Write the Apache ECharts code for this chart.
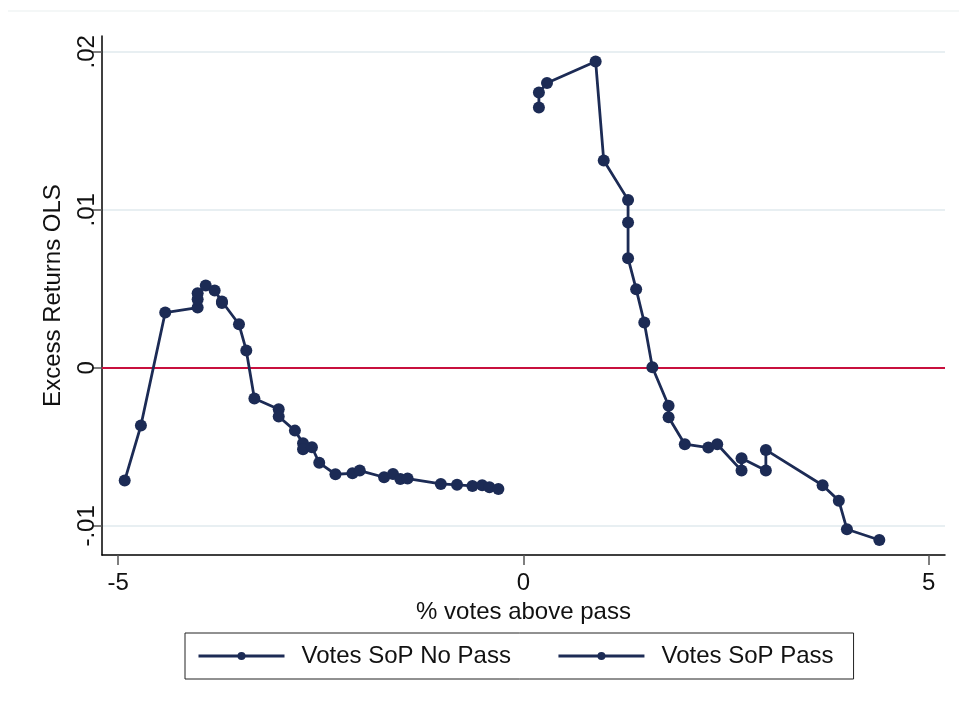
<!DOCTYPE html>
<html>
<head>
<meta charset="utf-8">
<script src="https://cdn.jsdelivr.net/npm/echarts@6/dist/echarts.min.js"></script>
<style>
  html, body { margin: 0; padding: 0; background: #fff; }
  #chart { width: 959px; height: 707px; }
</style>
</head>
<body>
<div id="chart"></div>
<script>
var chart = echarts.init(document.getElementById('chart'));

// Votes SoP No Pass  (x = % votes above pass, y = excess returns)
var noPassX = [-4.92, -4.72, -4.42, -4.02, -4.02, -4.02, -3.92, -3.81, -3.72, -3.72, -3.51, -3.42, -3.32,
    -3.02, -3.02, -2.82, -2.72, -2.72, -2.61, -2.52, -2.32, -2.11, -2.02, -1.72, -1.61, -1.52, -1.43,
    -1.02, -0.82, -0.63, -0.51, -0.42, -0.31];
var noPassY = [-0.00713, -0.00365, 0.0035, 0.00382, 0.00435, 0.00473, 0.00521, 0.00489, 0.0042, 0.0041,
    0.00276, 0.0011, -0.00194, -0.00262, -0.00308, -0.00397, -0.00477, -0.00515, -0.00502, -0.00601,
    -0.00673, -0.00667, -0.0065, -0.00692, -0.00671, -0.00703, -0.007, -0.00734, -0.0074, -0.00747,
    -0.00743, -0.00755, -0.00766];

// Votes SoP Pass
var passX = [0.19, 0.19, 0.29, 0.89, 0.99, 1.29, 1.29, 1.29, 1.39, 1.49, 1.59, 1.79, 1.79, 1.99,
    2.28, 2.39, 2.69, 2.69, 2.99, 2.99, 3.69, 3.89, 3.99, 4.39];
var passY = [0.01648, 0.01743, 0.01802, 0.01939, 0.01312, 0.01063, 0.0092, 0.00694, 0.00498, 0.00287,
    0.00004, -0.0024, -0.00312, -0.00483, -0.00504, -0.00483, -0.0065, -0.00572, -0.0065, -0.00519,
    -0.00743, -0.0084, -0.01021, -0.01089];

var xTicks = [-5, 0, 5];
var yTicks = [-0.01, 0, 0.01, 0.02];
var yTickLabels = ['-.01', '0', '.01', '.02'];

function pairs(xs, ys) {
    return xs.map(function (x, i) { return [x, ys[i]]; });
}

var navy = '#1c2b55';
var font = 'Liberation Sans, Arial, sans-serif';

option = {
    backgroundColor: '#fff',
    animation: false,
    graphic: [{
        type: 'line',
        shape: { x1: 8, y1: 11, x2: 959, y2: 11 },
        style: { stroke: '#e9efef', lineWidth: 1 }
    }],
    grid: {
        left: 102,
        right: 14,
        top: 36,
        bottom: 152
    },
    legend: {
        left: 185,
        top: 633,
        itemWidth: 86,
        itemHeight: 10,
        itemGap: 46,
        padding: [11, 20, 11, 12],
        borderColor: '#222',
        borderWidth: 1,
        lineStyle: { width: 3 },
        textStyle: {
            fontFamily: font,
            fontSize: 24,
            color: '#111',
            padding: [0, 0, 0, 12]
        },
        data: ['Votes SoP No Pass', 'Votes SoP Pass']
    },
    xAxis: {
        type: 'value',
        min: -5.2,
        max: 5.2,
        name: '% votes above pass',
        nameLocation: 'middle',
        nameGap: 37,
        nameTextStyle: { fontFamily: font, fontSize: 24, color: '#111' },
        axisLine: { onZero: false, lineStyle: { color: '#000', width: 1.5 } },
        axisTick: { customValues: xTicks, length: 10, lineStyle: { color: '#555', width: 1.5 } },
        axisLabel: {
            customValues: xTicks,
            fontFamily: font,
            fontSize: 24,
            color: '#111',
            margin: 16
        },
        splitLine: { show: false }
    },
    yAxis: {
        type: 'value',
        min: -0.01184,
        max: 0.0210,
        name: 'Excess Returns OLS',
        nameLocation: 'middle',
        nameRotate: 90,
        nameGap: 37,
        nameTextStyle: { fontFamily: font, fontSize: 24, color: '#111' },
        axisLine: { show: true, onZero: false, lineStyle: { color: '#000', width: 1.5 } },
        axisTick: { show: true, customValues: yTicks, length: 10, lineStyle: { color: '#555', width: 1.5 } },
        axisLabel: {
            customValues: yTicks,
            rotate: 90,
            fontFamily: font,
            fontSize: 24,
            color: '#111',
            margin: 3,
            formatter: function (v) {
                var i = yTicks.indexOf(v);
                return i >= 0 ? yTickLabels[i] : '';
            }
        },
        splitLine: { show: true, lineStyle: { color: '#e8eff2', width: 2 } }
    },
    series: [{
        name: 'Votes SoP No Pass',
        type: 'line',
        data: pairs(noPassX, noPassY),
        symbol: 'circle',
        symbolSize: 12,
        itemStyle: { color: navy },
        lineStyle: { color: navy, width: 2.8 },
        z: 3,
        markLine: {
            silent: true,
            symbol: 'none',
            label: { show: false },
            lineStyle: { color: '#c8103e', width: 2, type: 'solid' },
            data: [{ yAxis: 0 }],
            z: 2
        }
    }, {
        name: 'Votes SoP Pass',
        type: 'line',
        data: pairs(passX, passY),
        symbol: 'circle',
        symbolSize: 12,
        itemStyle: { color: navy },
        lineStyle: { color: navy, width: 2.8 },
        z: 3
    }]
};

chart.setOption(option);
</script>
</body>
</html>
